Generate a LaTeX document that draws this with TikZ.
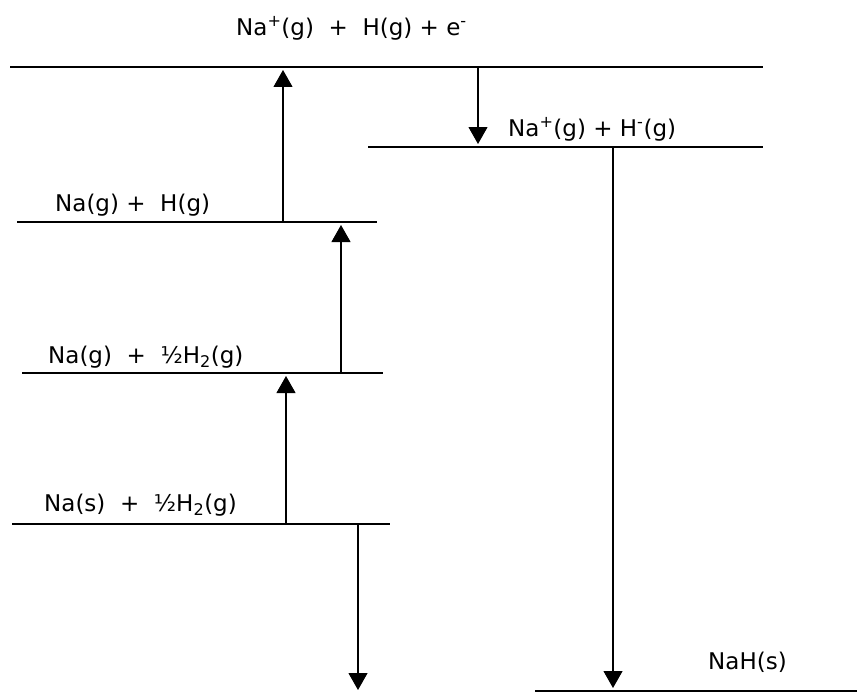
\documentclass[tikz,border=0pt]{standalone}
\usepackage{fontspec}
\setmainfont{DejaVu Sans}
\usetikzlibrary{arrows.meta}
\begin{document}
\begin{tikzpicture}[x=1pt,y=-1pt,
  level/.style={line width=1.2pt,black},
  arr/.style={line width=1.1pt,-{Triangle[width=19pt,length=17pt]},shorten >=3pt},
  lab/.style={anchor=west,inner sep=0pt,font=\fontsize{23}{23}\selectfont}]
\useasboundingbox (0,0) rectangle (857,693);
% levels
\coordinate (L0a) at (10,67);   \coordinate (L0b) at (763,67);
\coordinate (L1a) at (368,147); \coordinate (L1b) at (763,147);
\coordinate (L2a) at (17,222);  \coordinate (L2b) at (377,222);
\coordinate (L3a) at (22,373);  \coordinate (L3b) at (383,373);
\coordinate (L4a) at (12,524);  \coordinate (L4b) at (390,524);
\coordinate (L5a) at (535,691); \coordinate (L5b) at (857,691);
\foreach \a/\b in {L0a/L0b,L1a/L1b,L2a/L2b,L3a/L3b,L4a/L4b,L5a/L5b}
  \draw[level] (\a) -- (\b);
% labels
\node[lab] (t0) at (236,28) {Na\textsuperscript{+}(g)\ \ +\ \ H(g) + e\textsuperscript{-}};
\node[lab] (t1) at (508,129) {Na\textsuperscript{+}(g) + H\textsuperscript{-}(g)};
\node[lab] (t2) at (55,205) {Na(g) +\ \ H(g)};
\node[lab] (t3) at (48,357) {Na(g)\ \ +\ \ ½H\textsubscript{2}(g)};
\node[lab] (t4) at (44,505) {Na(s)\ \ +\ \ ½H\textsubscript{2}(g)};
\node[lab] (t5) at (708,662) {NaH(s)};
% arrow end points
\coordinate (a1s) at (283,222); \coordinate (a1e) at (283,67);
\coordinate (a2s) at (478,67);  \coordinate (a2e) at (478,147);
\coordinate (a3s) at (341,373); \coordinate (a3e) at (341,222);
\coordinate (a4s) at (286,524); \coordinate (a4e) at (286,373);
\coordinate (a5s) at (358,524); \coordinate (a5e) at (358,693);
\coordinate (a6s) at (613,147); \coordinate (a6e) at (613,691);
\draw[arr] (a1s) -- (a1e);
\draw[arr] (a2s) -- (a2e);
\draw[arr] (a3s) -- (a3e);
\draw[arr] (a4s) -- (a4e);
\draw[arr] (a5s) -- (a5e);
\draw[arr] (a6s) -- (a6e);
\end{tikzpicture}
\end{document}
